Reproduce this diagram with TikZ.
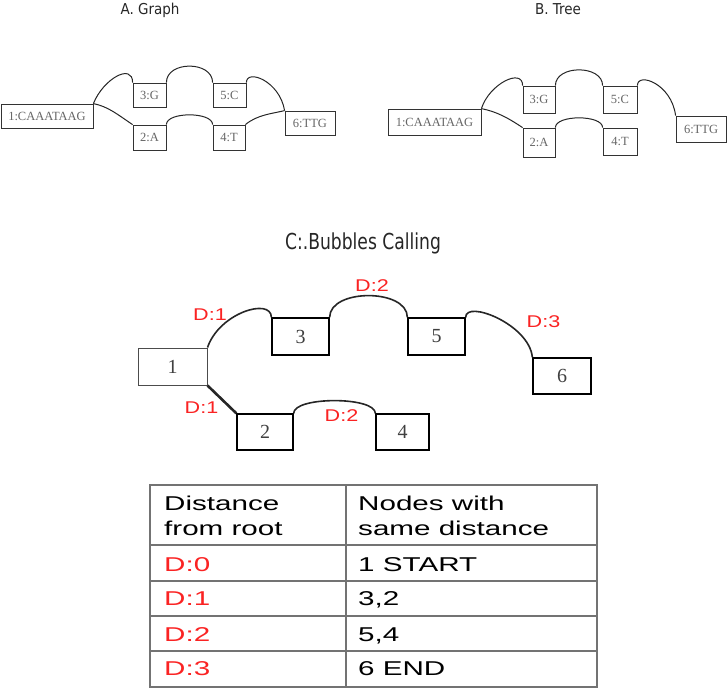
\documentclass[tikz,border=0pt]{standalone}
\usepackage{fontspec}
\setmainfont{Liberation Serif}
\setsansfont{Liberation Sans}
\newfontfamily\headfont{DejaVu Sans}
\usetikzlibrary{calc}
\definecolor{distred}{RGB}{250,35,35}
\newcommand{\stretchx}[2]{\scalebox{#1}[1]{#2}}

\begin{document}
\begin{tikzpicture}[x=1pt, y=-1pt,
    paneltitle/.style={font=\headfont\fontsize{15}{18}\selectfont, anchor=base, inner sep=0pt, text=black!85},
    seqbox/.style={draw=black!80, line width=0.8pt, text=black!60, inner sep=0pt, font=\fontsize{12.5}{14}\selectfont},
    numbox/.style={draw=black, line width=1.3pt, text=black!75, inner sep=0pt, font=\fontsize{20}{22}\selectfont},
    link/.style={draw=black!85, line width=1pt},
    dlabel/.style={text=distred, inner sep=0pt, anchor=base, font=\sffamily\fontsize{17}{20}\selectfont},
    tabcell/.style={inner sep=0pt, anchor=base west, align=left, font=\sffamily\fontsize{20}{25}\selectfont},
    tablerule/.style={draw=black, double=black!55, double distance=1.2pt, line width=0.8pt}]
    \useasboundingbox (0,0) rectangle (727,688);

    % A. Graph
    \node[paneltitle] (titleA) at (150,14) {\stretchx{0.9}{A. Graph}};
    \node[seqbox, minimum width=92, minimum height=24] (a1) at (47,116) {1:CAAATAAG};
    \node[seqbox, minimum width=33, minimum height=24] (a3) at (149.5,95) {3:G};
    \node[seqbox, minimum width=33, minimum height=24] (a5) at (229.5,95) {5:C};
    \node[seqbox, minimum width=33, minimum height=25] (a2) at (149.5,137.5) {2:A};
    \node[seqbox, minimum width=32, minimum height=25] (a4) at (229,137.5) {4:T};
    \node[seqbox, minimum width=50, minimum height=24] (a6) at (310,123) {6:TTG};

    \draw[link] (a1.north east) .. controls +(10,-25) and +(0,-20) .. (a3.north west);
    \draw[link] (a3.north east) .. controls +(0,-22) and +(0,-22) .. (a5.north west);
    \draw[link] (a5.north east) .. controls +(0,-14) and +(-5,-30) .. (a6.north west);
    \draw[link] (a1.north east) .. controls +(15,3) and +(-15,-10) .. (a2.north west);
    \draw[link] (a2.north east) .. controls +(0,-13) and +(0,-13) .. (a4.north west);
    \draw[link] (a4.north east) .. controls +(12,-10) and +(-12,3) .. (a6.north west);

    % B. Tree
    \node[paneltitle] (titleB) at (558,14) {\stretchx{0.9}{B. Tree}};
    \node[seqbox, minimum width=93, minimum height=26] (b1) at (434.5,122) {1:CAAATAAG};
    \node[seqbox, minimum width=32, minimum height=27] (b3) at (539,99.5) {3:G};
    \node[seqbox, minimum width=34, minimum height=27] (b5) at (620,99.5) {5:C};
    \node[seqbox, minimum width=32, minimum height=29] (b2) at (539,142.5) {2:A};
    \node[seqbox, minimum width=34, minimum height=27] (b4) at (620,141.5) {4:T};
    \node[seqbox, minimum width=50, minimum height=26] (b6) at (701,129) {6:TTG};

    \draw[link] (b1.north east) .. controls +(8,-25) and +(0,-18) .. (b3.north west);
    \draw[link] (b3.north east) .. controls +(0,-21) and +(0,-21) .. (b5.north west);
    \draw[link] (b5.north east) .. controls +(0,-14) and +(-4,-32) .. (b6.north west);
    \draw[link] (b1.north east) .. controls +(15,3) and +(-15,-10) .. (b2.north west);
    \draw[link] (b2.north east) .. controls +(0,-13) and +(0,-13) .. (b4.north west);

    % C. Bubbles
    \node[paneltitle, font=\headfont\fontsize{22}{26}\selectfont] (titleC) at (363,249) {\stretchx{0.78}{C:.Bubbles Calling}};
    \node[numbox, draw=black!70, line width=1pt, minimum width=69, minimum height=37] (c1) at (172.5,366.5) {1};
    \node[numbox, minimum width=57, minimum height=37] (c3) at (300.5,336.5) {3};
    \node[numbox, minimum width=57, minimum height=37] (c5) at (436.5,336.5) {5};
    \node[numbox, minimum width=58, minimum height=36] (c6) at (562,376) {6};
    \node[numbox, minimum width=56, minimum height=36] (c2) at (265,432) {2};
    \node[numbox, minimum width=53, minimum height=36] (c4) at (402.5,432) {4};

    \draw[link, line width=1.6pt] (c1.north east) .. controls +(12,-35) and +(0,-20) .. (c3.north west);
    \draw[link, line width=1.6pt] (c3.north east) .. controls +(0,-29) and +(0,-29) .. (c5.north west);
    \draw[link, line width=1.6pt] (c5.north east) .. controls +(0,-18) and +(-3,-33) .. (c6.north west);
    \draw[link, line width=2.6pt] (c1.south east) -- (c2.north west);
    \draw[link, line width=1.6pt] (c2.north east) .. controls +(0,-17) and +(0,-17) .. (c4.north west);

    \node[dlabel] (d13) at (210,320) {\stretchx{1.27}{D:1}};
    \node[dlabel] (d35) at (372,291) {\stretchx{1.27}{D:2}};
    \node[dlabel] (d56) at (543.5,327) {\stretchx{1.27}{D:3}};
    \node[dlabel] (d12) at (201.5,413) {\stretchx{1.27}{D:1}};
    \node[dlabel] (d24) at (341.5,421) {\stretchx{1.27}{D:2}};

    % distance table
    \draw[tablerule] (150,485) rectangle (597,687);
    \draw[tablerule] (346,485) -- (346,687);
    \foreach \y in {545,581,616,651}
        \draw[tablerule] (150,\y) -- (597,\y);

    \node[tabcell, anchor=west] (h1) at (164,515.5) {\stretchx{1.48}{Distance}\\\stretchx{1.48}{from root}};
    \node[tabcell, anchor=west] (h2) at (358,515.5) {\stretchx{1.48}{Nodes with}\\\stretchx{1.48}{same distance}};
    \node[tabcell, text=distred] (r0) at (164,571) {\stretchx{1.48}{D:0}};
    \node[tabcell] (n0) at (358,571) {\stretchx{1.48}{1 START}};
    \node[tabcell, text=distred] (r1) at (164,605) {\stretchx{1.48}{D:1}};
    \node[tabcell] (n1) at (358,605) {\stretchx{1.48}{3,2}};
    \node[tabcell, text=distred] (r2) at (164,641) {\stretchx{1.48}{D:2}};
    \node[tabcell] (n2) at (358,641) {\stretchx{1.48}{5,4}};
    \node[tabcell, text=distred] (r3) at (164,675) {\stretchx{1.48}{D:3}};
    \node[tabcell] (n3) at (358,675) {\stretchx{1.48}{6 END}};
\end{tikzpicture}
\end{document}
